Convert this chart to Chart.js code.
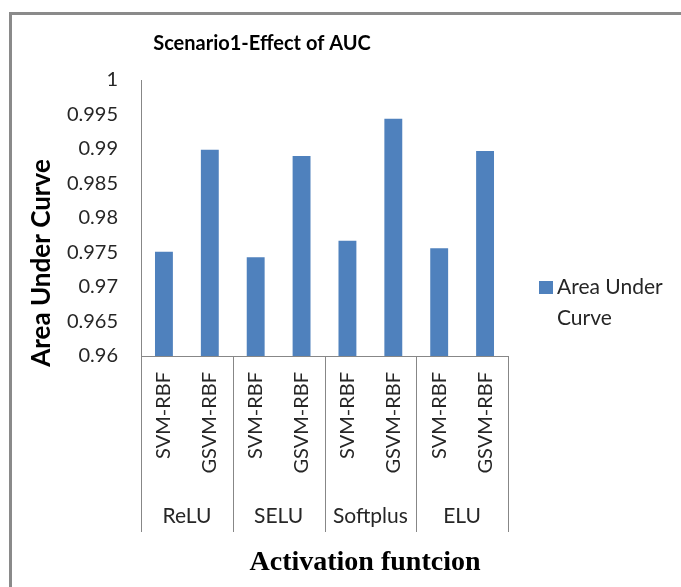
<!DOCTYPE html>
<html>
<head>
<meta charset="utf-8">
<script src="https://cdn.jsdelivr.net/npm/chart.js@4/dist/chart.umd.min.js"></script>
<style>
  html, body { margin: 0; padding: 0; background: #ffffff; }
  #wrap { position: relative; width: 681px; height: 587px; }
</style>
</head>
<body>
<div id="wrap"><canvas id="c" width="681" height="587"></canvas></div>
<script>
// ---- data ----
const chartTitle = 'Scenario1-Effect of AUC';
const groups = ['ReLU', 'SELU', 'Softplus', 'ELU'];
const categories = ['SVM-RBF', 'GSVM-RBF', 'SVM-RBF', 'GSVM-RBF', 'SVM-RBF', 'GSVM-RBF', 'SVM-RBF', 'GSVM-RBF'];
const aucValues = [0.9751, 0.9899, 0.9743, 0.9890, 0.9767, 0.9944, 0.9756, 0.9897];
const yTickValues = [0.96, 0.965, 0.97, 0.975, 0.98, 0.985, 0.99, 0.995, 1];
const seriesName = 'Area Under Curve';
const xAxisTitle = 'Activation funtcion';
const yAxisTitle = 'Area Under Curve';

const SANS = 'Lato, "Noto Sans", sans-serif';
const TEXT = '#262626';
const LINE = '#878787';
const BAR = '#4F81BD';

// frame, titles, category groups and legend drawn on the chart canvas
const decorations = {
  id: 'decorations',
  beforeDraw(chart) {
    const ctx = chart.ctx;
    ctx.save();
    ctx.fillStyle = '#ffffff';
    ctx.fillRect(0, 0, chart.width, chart.height);
    ctx.fillStyle = '#8a8a8a';
    ctx.fillRect(9, 12, chart.width - 9, 3);
    ctx.fillRect(9, 12, 3, chart.height - 12);
    ctx.restore();
  },
  afterDraw(chart) {
    const ctx = chart.ctx;
    const area = chart.chartArea;
    const x = chart.scales.x;
    ctx.save();

    // chart title
    ctx.fillStyle = '#000000';
    ctx.font = 'bold 20px ' + SANS;
    ctx.textAlign = 'center';
    ctx.textBaseline = 'middle';
    ctx.fillText(chartTitle, 262, 44);

    // y axis title
    ctx.save();
    ctx.translate(42, 263);
    ctx.rotate(-Math.PI / 2);
    ctx.font = 'bold 26px ' + SANS;
    ctx.fillText(yAxisTitle, 0, 0);
    ctx.restore();

    // x axis title
    ctx.font = 'bold 28px "Liberation Serif", "Times New Roman", serif';
    ctx.fillText(xAxisTitle, 365, 563);

    // group separators and group labels
    ctx.strokeStyle = LINE;
    ctx.lineWidth = 1;
    const n = categories.length;
    const per = n / groups.length;
    const half = (x.getPixelForValue(1) - x.getPixelForValue(0)) / 2;
    ctx.beginPath();
    for (let g = 0; g <= groups.length; g++) {
      const idx = g * per;
      const px = Math.round(g < groups.length ? x.getPixelForValue(idx) - half : x.getPixelForValue(n - 1) + half) + 0.5;
      ctx.moveTo(px, area.bottom);
      ctx.lineTo(px, 532);
    }
    ctx.stroke();
    ctx.fillStyle = TEXT;
    ctx.font = '21px ' + SANS;
    groups.forEach((name, g) => {
      const a = x.getPixelForValue(g * per);
      const b = x.getPixelForValue(g * per + per - 1);
      ctx.fillText(name, (a + b) / 2, 516);
    });

    // legend
    const ds = chart.data.datasets[0];
    ctx.fillStyle = ds.backgroundColor;
    ctx.fillRect(539, 281, 14, 13);
    ctx.fillStyle = TEXT;
    ctx.font = '21px ' + SANS;
    ctx.textAlign = 'left';
    const words = ds.label.split(' ');
    const lines = [];
    let cur = '';
    words.forEach(w => {
      const t = cur ? cur + ' ' + w : w;
      if (cur && ctx.measureText(t).width > 115) { lines.push(cur); cur = w; } else { cur = t; }
    });
    lines.push(cur);
    lines.forEach((l, i) => ctx.fillText(l, 557, 287 + i * 31));

    ctx.restore();
  }
};

new Chart(document.getElementById('c'), {
  type: 'bar',
  data: {
    labels: categories,
    datasets: [{
      label: seriesName,
      data: aucValues,
      backgroundColor: BAR,
      borderWidth: 0,
      barPercentage: 0.39,
      categoryPercentage: 1.0
    }]
  },
  options: {
    responsive: false,
    animation: false,
    devicePixelRatio: 1,
    layout: { padding: { left: 0, right: 173, top: 80, bottom: 0 } },
    plugins: {
      legend: { display: false },
      title: { display: false },
      tooltip: { enabled: false }
    },
    scales: {
      x: {
        type: 'category',
        grid: { display: false, drawTicks: false, tickLength: 0 },
        border: { display: true, color: LINE, width: 1 },
        ticks: {
          autoSkip: false,
          minRotation: 90,
          maxRotation: 90,
          padding: 16,
          color: TEXT,
          font: { family: SANS, size: 20 }
        },
        afterFit(scale) { scale.height = 231; }
      },
      y: {
        min: 0.96,
        max: 1,
        grid: { display: false, drawTicks: false, tickLength: 0 },
        border: { display: true, color: LINE, width: 1 },
        afterBuildTicks(scale) { scale.ticks = yTickValues.map(v => ({ value: v })); },
        ticks: {
          padding: 23,
          color: TEXT,
          font: { family: SANS, size: 20 },
          callback: v => String(parseFloat(Number(v).toFixed(3)))
        },
        afterFit(scale) { scale.width = 141; }
      }
    }
  },
  plugins: [decorations]
});
</script>
</body>
</html>
